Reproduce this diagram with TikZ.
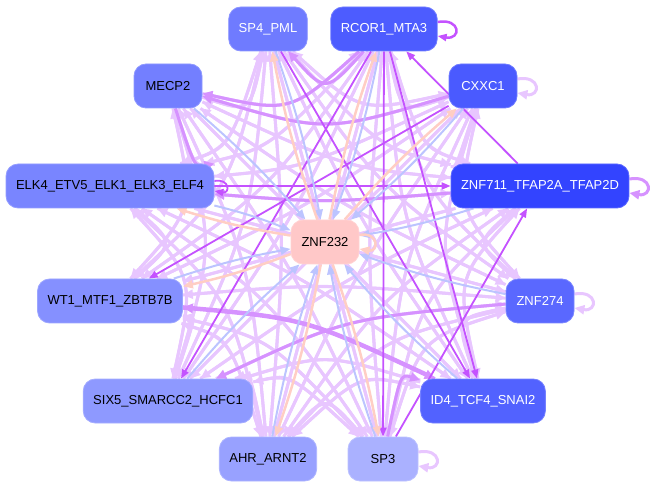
\documentclass[tikz,border=0pt]{standalone}
\usepackage{fontspec}
\setmainfont{Liberation Sans}
\usetikzlibrary{arrows.meta,calc}

\definecolor{liteC}{RGB}{232,198,255}
\definecolor{midC}{RGB}{214,146,255}
\definecolor{deepC}{RGB}{196,82,255}
\definecolor{blueC}{RGB}{188,196,255}
\definecolor{peachC}{RGB}{255,206,196}
\definecolor{cSPfour}{RGB}{111,123,255}
\definecolor{cRCOR}{RGB}{77,92,255}
\definecolor{cMECP}{RGB}{115,127,255}
\definecolor{cCXXC}{RGB}{74,90,255}
\definecolor{cELK}{RGB}{121,133,255}
\definecolor{cZNFsev}{RGB}{51,68,255}
\definecolor{cHub}{RGB}{255,200,200}
\definecolor{cWT}{RGB}{133,144,255}
\definecolor{cZNFtwo}{RGB}{90,104,255}
\definecolor{cSIX}{RGB}{142,153,255}
\definecolor{cID}{RGB}{82,98,255}
\definecolor{cAHR}{RGB}{152,161,255}
\definecolor{cSPthree}{RGB}{170,177,255}

\pgfdeclarelayer{bg}
\pgfsetlayers{bg,main}

\tikzset{
  tf/.style={fill=#1, draw=#1!80!white, line width=0.8pt, rounded corners=12pt,
    minimum height=44pt, minimum width=68pt, inner xsep=10pt,
    font=\fontsize{13pt}{15pt}\selectfont},
  wtxt/.style={text=white},
  lite/.style={draw=liteC, line width=3pt, -{Triangle[length=10pt,width=9pt]}},
  mid/.style={draw=midC, line width=3pt, -{Triangle[length=10pt,width=9pt]}},
  deep/.style={draw=deepC, line width=1.8pt, -{Triangle[length=9pt,width=7pt]}},
  tohub/.style={draw=blueC, line width=2pt, -{Triangle[length=10pt,width=8pt]}},
  fromhub/.style={draw=peachC, line width=2.5pt, -{Triangle[length=10pt,width=8pt]}}
}

% edge on the ring, bowed towards the hub
\newcommand{\ringedge}[3]{%
  \draw[#1] (#2) .. controls ($($(#2)!0.5!(#3)$)!0.3!(znf232)$) .. (#3);}
\def\ringlist{sp4,rcor1,mecp2,cxxc1,elk4,znf711,wt1,znf274,six5,id4,ahr,sp3}

\begin{document}
\begin{tikzpicture}[x=1pt,y=-1pt]
  \useasboundingbox (0,0) rectangle (662,489);

  % factors on the ring
  \node[tf=cSPfour, wtxt] (sp4) at (268,29) {SP4\_PML};
  \node[tf=cRCOR, wtxt] (rcor1) at (384,29) {RCOR1\_MTA3};
  \node[tf=cMECP] (mecp2) at (168,86) {MECP2};
  \node[tf=cCXXC, wtxt] (cxxc1) at (483,86) {CXXC1};
  \node[tf=cELK] (elk4) at (110,186) {ELK4\_ETV5\_ELK1\_ELK3\_ELF4};
  \node[tf=cZNFsev, wtxt] (znf711) at (540,186) {ZNF711\_TFAP2A\_TFAP2D};
  \node[tf=cWT] (wt1) at (110,301) {WT1\_MTF1\_ZBTB7B};
  \node[tf=cZNFtwo, wtxt] (znf274) at (540,301) {ZNF274};
  \node[tf=cSIX] (six5) at (168,401) {SIX5\_SMARCC2\_HCFC1};
  \node[tf=cID, wtxt] (id4) at (483,401) {ID4\_TCF4\_SNAI2};
  \node[tf=cAHR] (ahr) at (268,459) {AHR\_ARNT2};
  \node[tf=cSPthree, minimum width=70pt] (sp3) at (383,459) {SP3};
  % hub
  \node[tf=cHub] (znf232) at (325,242) {ZNF232};

  \begin{pgfonlayer}{bg}
    % every pair on the ring
    \foreach \a [count=\i] in \ringlist
      \foreach \b [count=\j] in \ringlist
        {\ifnum\i=\j\else\ringedge{lite}{\a}{\b}\fi}
    \foreach \a/\b in {rcor1/sp4,rcor1/mecp2,cxxc1/mecp2,znf274/six5,
        znf711/elk4,mecp2/elk4,sp3/id4,id4/wt1}
      {\ringedge{mid}{\a}{\b}}
    \ringedge{mid, line width=4.5pt}{wt1}{id4}
    \foreach \a/\b in {rcor1/sp3,elk4/znf711,znf711/rcor1,rcor1/id4,
        cxxc1/wt1,sp4/id4,sp3/znf711,rcor1/six5}
      \draw[deep] (\a) -- (\b);
    % into and out of the hub
    \foreach \a in \ringlist
      \draw[tohub] (\a) to[bend left=4] (znf232);
    \foreach \a in {sp4,rcor1,cxxc1,elk4,wt1,ahr,sp3}
      \draw[fromhub] (znf232) to[bend left=4] (\a);
    % self loops
    \draw[deep, line width=2.5pt] ([yshift=7pt]rcor1.east) to[out=10,in=-10,distance=24pt] ([yshift=-7pt]rcor1.east);
    \draw[deep] ([yshift=5pt]elk4.east) to[out=10,in=-10,distance=16pt] ([yshift=-5pt]elk4.east);
    \draw[lite] ([yshift=7pt]cxxc1.east) to[out=10,in=-10,distance=24pt] ([yshift=-7pt]cxxc1.east);
    \draw[mid] ([yshift=7pt]znf711.east) to[out=10,in=-10,distance=24pt] ([yshift=-7pt]znf711.east);
    \draw[lite] ([yshift=7pt]znf274.east) to[out=10,in=-10,distance=24pt] ([yshift=-7pt]znf274.east);
    \draw[lite] ([yshift=7pt]sp3.east) to[out=10,in=-10,distance=24pt] ([yshift=-7pt]sp3.east);
    \draw[fromhub] ([yshift=7pt]znf232.east) to[out=10,in=-10,distance=20pt] ([yshift=-7pt]znf232.east);
  \end{pgfonlayer}
\end{tikzpicture}
\end{document}
